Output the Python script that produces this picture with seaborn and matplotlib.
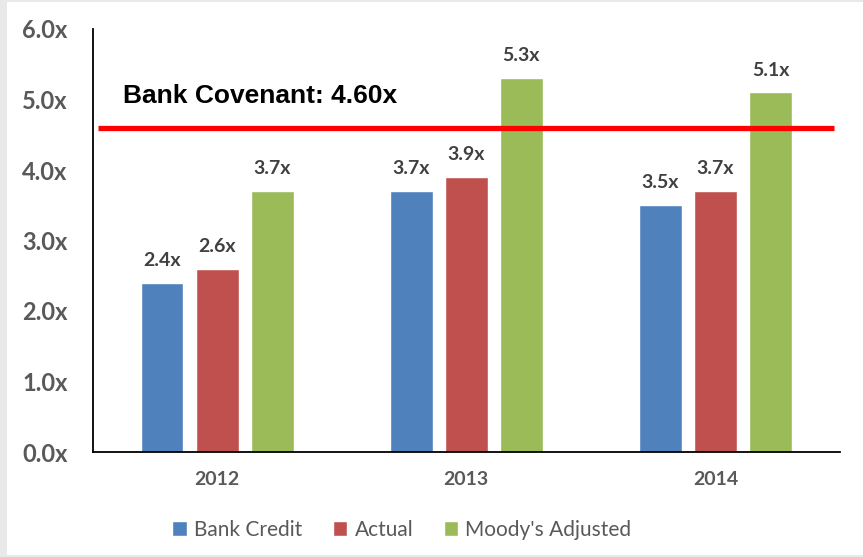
import matplotlib
matplotlib.use("Agg")
import matplotlib.pyplot as plt
from matplotlib.patches import Rectangle
import seaborn as sns
import pandas as pd

# Leverage multiples by year
years = ["2012", "2013", "2014"]
series = ["Bank Credit", "Actual", "Moody's Adjusted"]
bank_credit = [2.4, 3.7, 3.5]
actual = [2.6, 3.9, 3.7]
moodys_adjusted = [3.7, 5.3, 5.1]
covenant = 4.60
y_ticks = [0, 1, 2, 3, 4, 5, 6]

colors = ["#4F81BD", "#C0504D", "#9BBB59"]

rows = []
for name, vals in zip(series, [bank_credit, actual, moodys_adjusted]):
    for yr, v in zip(years, vals):
        rows.append({"year": yr, "series": name, "value": v})
df = pd.DataFrame(rows)

sns.set_theme(style="white")
plt.rcParams["font.family"] = ["Lato", "DejaVu Sans"]

fig = plt.figure(figsize=(8.63, 5.57), dpi=100)
fig.patch.set_facecolor("#e9e9e9")
fig.patches.append(Rectangle((7 / 863, 2 / 557), 1 - 7 / 863, 1 - 4 / 557,
                             transform=fig.transFigure, facecolor="white",
                             edgecolor="none", zorder=-10))

ax = fig.add_axes([92.5 / 863, 1 - 452 / 557, (840 - 92.5) / 863, (452 - 29) / 557])
ax.set_facecolor("none")
ax.set_zorder(1)

sns.barplot(data=df, x="year", y="value", hue="series", order=years,
            hue_order=series, palette=colors, width=0.663, gap=0.22,
            saturation=1, ax=ax, legend=True)

for cont in ax.containers:
    ax.bar_label(cont, fmt="%.1fx", padding=10, fontsize=14,
                 fontweight="bold", color="#404040")

ax.plot([-0.478, 2.474], [covenant, covenant], color="#FF0000", lw=3.8,
        solid_capstyle="butt", zorder=5)
ax.text(-0.378, covenant + 0.45, f"Bank Covenant: {covenant:.2f}x",
        fontsize=19, fontweight="bold", color="black",
        family="Liberation Sans", va="center", ha="left")

ax.set_xlim(-0.5, 2.5)
ax.set_ylim(0, 6)
ax.set_yticks(y_ticks)
ax.set_yticklabels([f"{t:.1f}x" for t in y_ticks])
ax.set_xlabel("")
ax.set_ylabel("")
ax.tick_params(axis="y", length=0, pad=18, labelsize=17, labelcolor="#595959")
ax.tick_params(axis="x", length=0, pad=14, labelsize=14, labelcolor="#595959")
for lbl in ax.get_yticklabels() + ax.get_xticklabels():
    lbl.set_fontweight("bold")

for side in ["top", "right"]:
    ax.spines[side].set_visible(False)
for side in ["left", "bottom"]:
    ax.spines[side].set_color("black")
    ax.spines[side].set_linewidth(1.3)

handles, labels = ax.get_legend_handles_labels()
ax.get_legend().remove()
leg = fig.legend(handles, labels, loc="center", bbox_to_anchor=(402 / 863, 1 - 530 / 557),
                 ncol=3, frameon=False, fontsize=15, handlelength=0.7,
                 handleheight=0.7, handletextpad=0.35, columnspacing=1.45)
for t in leg.get_texts():
    t.set_color("#595959")

fig.savefig("out.png", dpi=100, facecolor=fig.get_facecolor())
